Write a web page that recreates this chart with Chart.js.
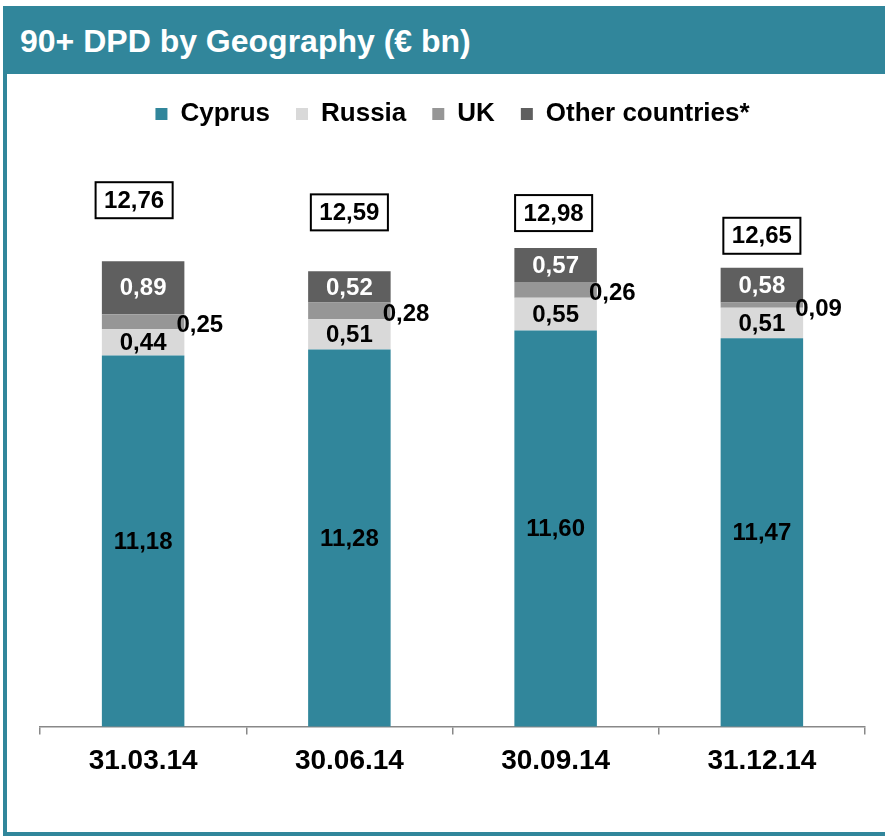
<!DOCTYPE html>
<html>
<head>
<meta charset="utf-8">
<script src="https://cdn.jsdelivr.net/npm/chart.js@4/dist/chart.umd.min.js"></script>
<style>
  html, body { margin: 0; padding: 0; background: #fff; }
  #page { position: relative; width: 885px; height: 836px; overflow: hidden; font-family: "Liberation Sans", Arial, sans-serif; }
  #frame { position: absolute; left: 3px; top: 6px; width: 890px; height: 830px; box-sizing: border-box; border: 4px solid #31869B; }
  #band { position: absolute; left: 3px; top: 6px; width: 882px; height: 68px; background: #31869B; }
  #band h1 { margin: 0; position: absolute; left: 17px; top: 17px; color: #fff; font-size: 32px; font-weight: bold; line-height: 36px; }
  #wrap { position: absolute; left: 0; top: 0; width: 885px; height: 836px; }
</style>
</head>
<body>
<div id="page">
  <div id="frame"></div>
  <div id="band"><h1>90+ DPD by Geography (€ bn)</h1></div>
  <div id="wrap"><canvas id="chart" width="885" height="836"></canvas></div>
</div>
<script>
// Quarter-end dates and 90+ DPD balances (€ bn) by geography
const quarters = ['31.03.14', '30.06.14', '30.09.14', '31.12.14'];
const cyprus = [11.18, 11.28, 11.60, 11.47];
const russia = [0.44, 0.51, 0.55, 0.51];
const uk = [0.25, 0.28, 0.26, 0.09];
const otherCountries = [0.89, 0.52, 0.57, 0.58];

const TEAL = '#31869B';
const fmt = v => v.toFixed(2).replace('.', ',');

// Segment labels: inside for most series, to the right of the bar for the thin UK slice
const segmentLabels = {
  id: 'segmentLabels',
  afterDatasetsDraw(chart) {
    const { ctx, chartArea } = chart;
    ctx.save();
    ctx.font = 'bold 24px "Liberation Sans", Arial, sans-serif';
    ctx.textBaseline = 'middle';
    chart.data.datasets.forEach((ds, di) => {
      const meta = chart.getDatasetMeta(di);
      meta.data.forEach((bar, i) => {
        const top = Math.max(bar.y, chartArea.top);
        const bottom = Math.min(bar.base, chartArea.bottom);
        const mid = (top + bottom) / 2;
        const text = fmt(ds.data[i]);
        if (ds.labelMode === 'side') {
          ctx.textAlign = 'left';
          ctx.fillStyle = '#000';
          ctx.fillText(text, bar.x + bar.width / 2 - 8, mid + 4);
        } else {
          ctx.textAlign = 'center';
          ctx.fillStyle = ds.labelColor;
          ctx.fillText(text, bar.x, mid + 1);
        }
      });
    });
    ctx.restore();
  }
};

// Boxed totals above each stack
const totalLabels = {
  id: 'totalLabels',
  afterDatasetsDraw(chart, args, opts) {
    const { ctx } = chart;
    const n = chart.data.labels.length;
    const lastMeta = chart.getDatasetMeta(chart.data.datasets.length - 1);
    ctx.save();
    ctx.font = 'bold 24px "Liberation Sans", Arial, sans-serif';
    ctx.textAlign = 'center';
    ctx.textBaseline = 'middle';
    for (let i = 0; i < n; i++) {
      const total = chart.data.datasets.reduce((s, ds) => s + ds.data[i], 0);
      const bar = lastMeta.data[i];
      const cx = bar.x + (opts.shiftX[i] || 0);
      const cy = bar.y - opts.lift[i];
      const text = fmt(total);
      const w = ctx.measureText(text).width + 17;
      const h = 36;
      ctx.fillStyle = '#fff';
      ctx.fillRect(cx - w / 2, cy - h / 2, w, h);
      ctx.lineWidth = 2;
      ctx.strokeStyle = '#000';
      ctx.strokeRect(cx - w / 2, cy - h / 2, w, h);
      ctx.fillStyle = '#000';
      ctx.fillText(text, cx, cy + 1);
    }
    ctx.restore();
  }
};

new Chart(document.getElementById('chart'), {
  type: 'bar',
  data: {
    labels: quarters,
    datasets: [
      { label: 'Cyprus', data: cyprus, backgroundColor: TEAL, labelColor: '#000' },
      { label: 'Russia', data: russia, backgroundColor: '#D9D9D9', labelColor: '#000' },
      { label: 'UK', data: uk, backgroundColor: '#969696', labelMode: 'side' },
      { label: 'Other countries*', data: otherCountries, backgroundColor: '#5F5F5F', labelColor: '#fff' }
    ]
  },
  options: {
    responsive: false,
    animation: false,
    devicePixelRatio: 1,
    layout: { padding: { left: 40, right: 20, top: 75, bottom: 48 } },
    datasets: { bar: { categoryPercentage: 1, barPercentage: 0.4, borderWidth: 0 } },
    scales: {
      x: {
        stacked: true,
        grid: { display: true, drawOnChartArea: false, drawTicks: true, tickLength: 8, color: '#888', lineWidth: 1.5, offset: true },
        border: { display: true, color: '#888', width: 1.5 },
        ticks: { color: '#000', padding: 10, font: { family: '"Liberation Sans", Arial, sans-serif', size: 28, weight: 'bold' } }
      },
      y: {
        stacked: true,
        display: false,
        min: 4.97,
        max: 14.84
      }
    },
    plugins: {
      legend: {
        position: 'top',
        align: 'center',
        labels: {
          color: '#000',
          boxWidth: 12,
          boxHeight: 12,
          padding: 26,
          font: { family: '"Liberation Sans", Arial, sans-serif', size: 26, weight: 'bold' }
        }
      },
      tooltip: { enabled: false },
      totalLabels: { lift: [61, 59, 35, 32], shiftX: [-9, 0, -2, 0] }
    }
  },
  plugins: [segmentLabels, totalLabels]
});
</script>
</body>
</html>
